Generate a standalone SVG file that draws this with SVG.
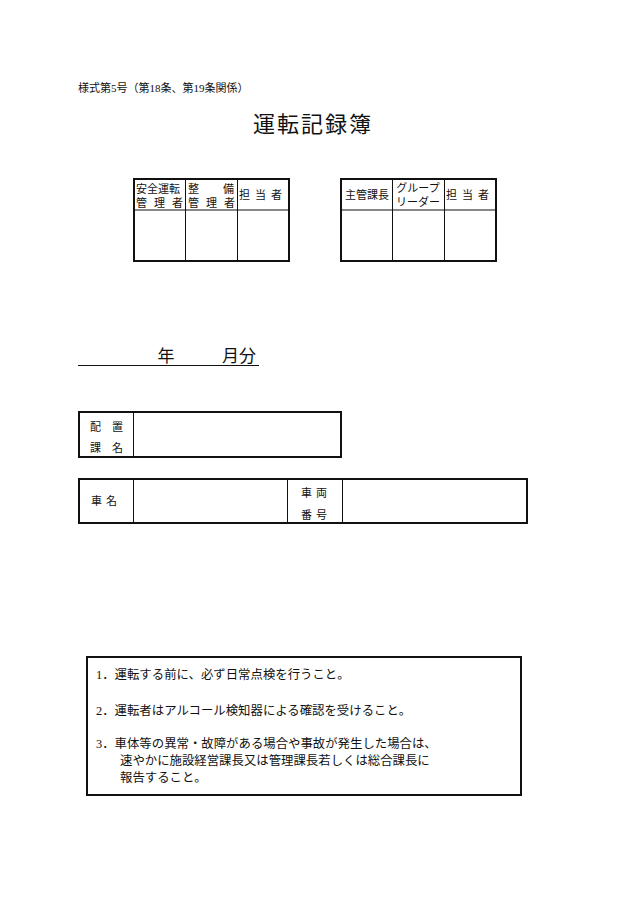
<svg xmlns="http://www.w3.org/2000/svg" width="630" height="903" viewBox="0 0 630 903">
<style>
text{font-family:"Liberation Serif","Noto Sans CJK JP",serif;fill:#111}
.b{fill:none;stroke:#111;stroke-width:2}
.l{stroke:#111;stroke-width:1}
.s{font-size:11px}
.m{font-size:12.4px}
</style>
<rect width="630" height="903" fill="#fff"/>
<text x="78" y="92" class="s">様式第5号（第18条、第19条関係）</text>
<text x="313" y="132" font-size="22" text-anchor="middle" letter-spacing="2">運転記録簿</text>
<g id="stamp1">
<rect class="b" x="134" y="179" width="155" height="82"/>
<line class="l" x1="134" y1="210" x2="289" y2="210"/>
<line class="l" x1="185.5" y1="179" x2="185.5" y2="261"/>
<line class="l" x1="237.5" y1="179" x2="237.5" y2="261"/>
<text x="136" y="193" class="s">安全運転</text>
<text x="136" y="207" class="s" textLength="47">管理者</text>
<text x="188" y="193" class="s">整</text><text x="234" y="193" class="s" text-anchor="end">備</text>
<text x="188" y="207" class="s" textLength="47">管理者</text>
<text x="263" y="199" class="s" text-anchor="middle" letter-spacing="5">担当者</text>
</g>
<g id="stamp2">
<rect class="b" x="341" y="179" width="155" height="82"/>
<line class="l" x1="341" y1="210" x2="496" y2="210"/>
<line class="l" x1="392.5" y1="179" x2="392.5" y2="261"/>
<line class="l" x1="444.5" y1="179" x2="444.5" y2="261"/>
<text x="367" y="199" class="s" text-anchor="middle">主管課長</text>
<text x="418" y="192" class="s" text-anchor="middle">グループ</text>
<text x="418" y="206" class="s" text-anchor="middle">リーダー</text>
<text x="470" y="199" class="s" text-anchor="middle" letter-spacing="5">担当者</text>
</g>
<g id="month">
<text x="166" y="362" font-size="17" text-anchor="middle">年</text>
<text x="239" y="362" font-size="17" text-anchor="middle">月分</text>
<line class="l" x1="78" y1="365.5" x2="259" y2="365.5"/>
</g>
<g id="dept">
<rect class="b" x="79" y="412" width="262" height="45"/>
<line class="l" x1="133.5" y1="412" x2="133.5" y2="457"/>
<text x="90" y="431" class="s">配</text><text x="112" y="431" class="s">置</text>
<text x="90" y="452" class="s">課</text><text x="112" y="452" class="s">名</text>
</g>
<g id="vehicle">
<rect class="b" x="79" y="479" width="448" height="44"/>
<line class="l" x1="133.5" y1="479" x2="133.5" y2="523"/>
<line class="l" x1="287.5" y1="479" x2="287.5" y2="523"/>
<line class="l" x1="342.5" y1="479" x2="342.5" y2="523"/>
<text x="106" y="505" class="s" text-anchor="middle" letter-spacing="4">車名</text>
<text x="316" y="497" class="s" text-anchor="middle" letter-spacing="4">車両</text>
<text x="316" y="519" class="s" text-anchor="middle" letter-spacing="4">番号</text>
</g>
<g id="notes">
<rect class="b" x="87" y="657" width="434" height="138"/>
<text x="96" y="679" class="m">1．運転する前に、必ず日常点検を行うこと。</text>
<text x="96" y="715" class="m">2．運転者はアルコール検知器による確認を受けること。</text>
<text x="96" y="748" class="m">3．車体等の異常・故障がある場合や事故が発生した場合は、</text>
<text x="120" y="765" class="m">速やかに施設経営課長又は管理課長若しくは総合課長に</text>
<text x="120" y="782" class="m">報告すること。</text>
</g>
</svg>
